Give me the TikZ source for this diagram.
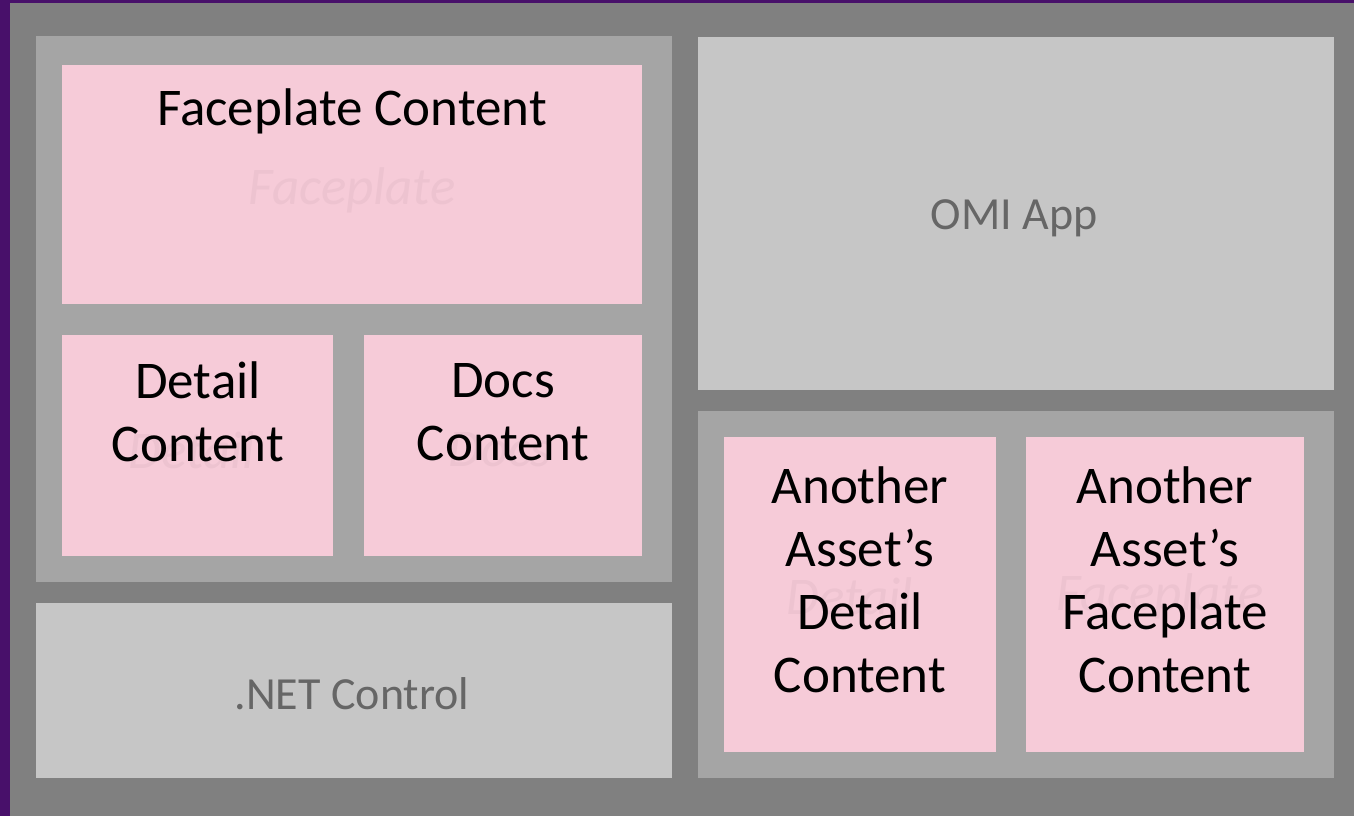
\documentclass[tikz,border=0pt]{standalone}
\usepackage{fontspec}
\setmainfont{Carlito}
\definecolor{bgpurple}{HTML}{48106A}
\definecolor{outergray}{HTML}{808080}
\definecolor{panelgray}{HTML}{A5A5A5}
\definecolor{lightgray}{HTML}{C6C6C6}
\definecolor{pinkbox}{HTML}{F6CBD8}
\definecolor{faintpink}{HTML}{EDC3D0}
\definecolor{labelgray}{HTML}{666666}
\tikzset{
  box/.style={anchor=north west, inner sep=0pt, outer sep=0pt, draw=none},
  panel/.style={box, fill=panelgray},
  lightbox/.style={box, fill=lightgray},
  pinkrect/.style={box, fill=pinkbox},
  maintext/.style={inner sep=0pt, align=center, text=black, font=\fontsize{53}{63}\selectfont},
  graytext/.style={inner sep=0pt, text=labelgray, font=\fontsize{46}{55}\selectfont},
  fainttext/.style={inner sep=0pt, text=faintpink, font=\fontsize{53}{63}\selectfont\itshape},
}
\begin{document}
\begin{tikzpicture}[x=1pt,y=-1pt]
\useasboundingbox (0,0) rectangle (1354,816);
\fill[bgpurple] (0,0) rectangle (1354,816);
\fill[outergray] (10,3) rectangle (1354,816);
% left panel
\node[panel, minimum width=636pt, minimum height=546pt] (leftpanel) at (36,36) {};
\node[pinkrect, minimum width=580pt, minimum height=239pt] (faceplate) at (62,65) {};
\node[pinkrect, minimum width=271pt, minimum height=221pt] (detail) at (62,335) {};
\node[pinkrect, minimum width=278pt, minimum height=221pt] (docs) at (364,335) {};
% .NET control
\node[lightbox, minimum width=636pt, minimum height=175pt] (net) at (36,603) {};
% OMI app
\node[lightbox, minimum width=636pt, minimum height=353pt] (omi) at (698,37) {};
% right bottom panel
\node[panel, minimum width=636pt, minimum height=367pt] (rightpanel) at (698,411) {};
\node[pinkrect, minimum width=272pt, minimum height=315pt] (adetail) at (724,437) {};
\node[pinkrect, minimum width=278pt, minimum height=315pt] (aface) at (1026,437) {};
% faint background labels
\node[fainttext] (fface) at (352,190) {Faceplate};
\node[fainttext] (fdetail) at (192,450) {Detail};
\node[fainttext] (fdocs) at (500,450) {Docs};
\node[fainttext] (fadetail) at (850,596) {Detail};
\node[fainttext] (faface) at (1160,596) {Faceplate};
% main labels
\node[maintext] (tface) at (352,111) {Faceplate Content};
\node[maintext] (tdetail) at (198,412) {Detail\\Content};
\node[maintext] (tdocs) at (503,412) {Docs\\Content};
\node[maintext] (tadetail) at (860,580) {Another\\Asset’s\\Detail\\Content};
\node[maintext] (taface) at (1165,580) {Another\\Asset’s\\Faceplate\\Content};
\node[graytext] (tnet) at (352,694) {.NET Control};
\node[graytext] (tomi) at (1014,218) {OMI App};
\end{tikzpicture}
\end{document}
